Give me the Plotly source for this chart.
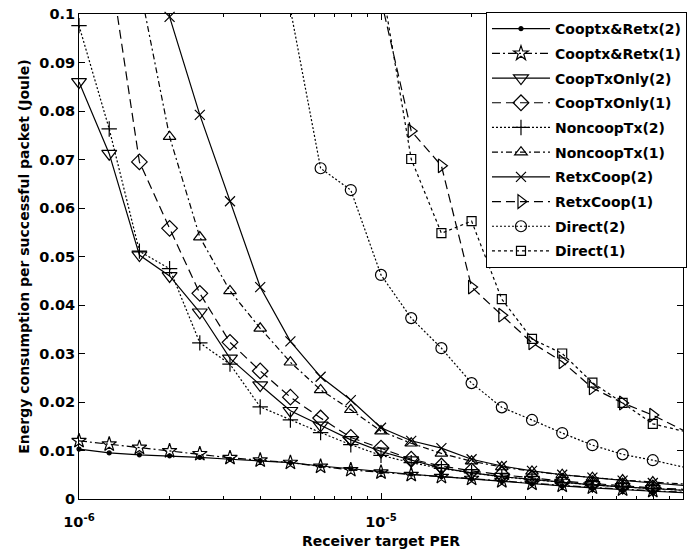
import plotly.graph_objects as go

# Receiver target PER (log-spaced, 0.1 decade apart)
per = [1.0e-6, 1.259e-6, 1.585e-6, 1.995e-6, 2.512e-6, 3.162e-6, 3.981e-6,
       5.012e-6, 6.310e-6, 7.943e-6, 1.0e-5, 1.259e-5, 1.585e-5, 1.995e-5,
       2.512e-5, 3.162e-5, 3.981e-5, 5.012e-5, 6.310e-5, 7.943e-5, 1.0e-4]

# Energy per successful packet (Joule); None = not reached inside the axes
cooptx_retx_2 = [0.0103, 0.0095, 0.0091, 0.0089, 0.0086, 0.0082, 0.0079, 0.0075,
                 0.0068, 0.0062, 0.0056, 0.0051, 0.0046, 0.0041, 0.0036, 0.0031,
                 0.0027, 0.0023, 0.0019, 0.0016, 0.0013]
cooptx_retx_1 = [0.0120, 0.0113, 0.0106, 0.0099, 0.0093, 0.0085, 0.0080, 0.0075,
                 0.0067, 0.0060, 0.0055, 0.0050, 0.0046, 0.0042, 0.0037, 0.0032,
                 0.0028, 0.0024, 0.0020, 0.0017, 0.0014]
cooptx_only_2 = [0.0860, 0.0712, 0.0503, 0.0460, 0.0385, 0.0290, 0.0235, 0.0182,
                 0.0152, 0.0122, 0.0098, 0.0080, 0.0064, 0.0054, 0.0046, 0.0040,
                 0.0034, 0.0029, 0.0025, 0.0021, 0.0018]
cooptx_only_1 = [None, 0.111, 0.0695, 0.0558, 0.0424, 0.0323, 0.0264, 0.0210,
                 0.0167, 0.0127, 0.0105, 0.0082, 0.0068, 0.0058, 0.0050, 0.0043,
                 0.0037, 0.0032, 0.0027, 0.0023, 0.0020]
noncoop_tx_2 = [0.0976, 0.0763, 0.0511, 0.0475, 0.0322, 0.0278, 0.0190, 0.0163,
                0.0137, 0.0112, 0.0090, 0.0075, 0.0063, 0.0054, 0.0046, 0.0040,
                0.0034, 0.0029, 0.0025, 0.0021, 0.0018]
noncoop_tx_1 = [None, None, 0.106, 0.0747, 0.0540, 0.0429, 0.0352, 0.0282,
                0.0225, 0.0184, 0.0140, 0.0115, 0.0094, 0.0078, 0.0066, 0.0057,
                0.0050, 0.0044, 0.0039, 0.0035, 0.0031]
retx_coop_2 = [None, None, 0.130, 0.0994, 0.0792, 0.0614, 0.0437, 0.0325,
               0.0252, 0.0204, 0.0147, 0.0120, 0.0105, 0.0082, 0.0068, 0.0058,
               0.0050, 0.0044, 0.0038, 0.0033, 0.0028]
retx_coop_1 = [None, None, None, None, None, None, None, None, None, None,
               0.103, 0.0759, 0.0687, 0.0437, 0.0379, 0.0322, 0.0283, 0.0229,
               0.0198, 0.0173, 0.0142]
direct_2 = [None, None, None, None, None, None, None, 0.101, 0.0682, 0.0637,
            0.0462, 0.0373, 0.0311, 0.0239, 0.0189, 0.0163, 0.0136, 0.0111,
            0.0092, 0.0080, 0.0066]
direct_1 = [None, None, None, None, None, None, None, None, None, None,
            0.107, 0.0701, 0.0548, 0.0573, 0.0412, 0.0330, 0.0300, 0.0240,
            0.0198, 0.0155, 0.0140]

X_MIN, X_MAX = 1e-6, 1e-4
Y_MIN, Y_MAX = 0.0, 0.1

FONT = "DejaVu Sans, Liberation Sans, sans-serif"

# name, values, dash pattern, marker symbol, marker size
series = [
    ("Cooptx&Retx(2)", cooptx_retx_2, "solid", "circle", 4),
    ("Cooptx&Retx(1)", cooptx_retx_1, "8px,3px,2px,3px", "star-open", 11),
    ("CoopTxOnly(2)", cooptx_only_2, "solid", "triangle-down-open", 13),
    ("CoopTxOnly(1)", cooptx_only_1, "9px,5px", "diamond-open", 12),
    ("NoncoopTx(2)", noncoop_tx_2, "2px,2px", "cross-thin-open", 11),
    ("NoncoopTx(1)", noncoop_tx_1, "6px,3px,2px,3px", "triangle-up-open", 11),
    ("RetxCoop(2)", retx_coop_2, "solid", "x-thin-open", 10),
    ("RetxCoop(1)", retx_coop_1, "9px,5px", "triangle-right-open", 12),
    ("Direct(2)", direct_2, "2px,2px", "circle-open", 11),
    ("Direct(1)", direct_1, "3px,3px", "square-open", 9),
]

fig = go.Figure()
for name, vals, dash, symbol, size in series:
    # markers only for samples lying inside the axes box
    inside = [i for i, (xv, yv) in enumerate(zip(per, vals))
              if yv is not None and Y_MIN <= yv <= Y_MAX and xv < X_MAX]
    fig.add_trace(go.Scatter(
        x=per, y=vals, name=name, legendgroup=name, mode="lines+markers",
        connectgaps=False, cliponaxis=False,
        line=dict(color="black", width=1.2, dash=dash),
        marker=dict(symbol=symbol, size=size, color="black",
                    line=dict(color="black", width=1.2)),
        selectedpoints=inside,
        selected=dict(marker=dict(opacity=1)),
        unselected=dict(marker=dict(opacity=0)),
    ))

minor_x = [m * 10.0 ** e for e in (-6, -5) for m in range(2, 10)]

fig.update_layout(
    width=696, height=553,
    margin=dict(l=79, r=9, t=14, b=54),
    paper_bgcolor="white", plot_bgcolor="white",
    font=dict(family=FONT, size=14, color="black", weight="bold"),
    showlegend=True,
    legend=dict(
        x=1.0066, xanchor="right", y=1.004, yanchor="top",
        bgcolor="white", bordercolor="black", borderwidth=1,
        font=dict(family=FONT, size=14, color="black", weight="bold"),
        itemwidth=58, tracegroupgap=3.5,
    ),
    xaxis=dict(
        type="log", range=[-6, -4], automargin=False,
        tickvals=[1e-6, 1e-5, 1e-4],
        ticktext=["10<sup>-6</sup>", "10<sup>-5</sup>", "10<sup>-4</sup>"],
        ticks="inside", ticklen=6, tickwidth=1, tickcolor="black",
        minor=dict(tickvals=minor_x, ticks="inside", ticklen=3,
                   tickwidth=1, tickcolor="black", showgrid=False),
        showline=True, linecolor="black", linewidth=1, mirror="ticks",
        showgrid=False, zeroline=False, ticklabelstandoff=10,
        title=dict(text="Receiver target PER", standoff=6,
                   font=dict(family=FONT, size=14, weight="bold")),
        tickfont=dict(family=FONT, size=14.5, weight="bold"),
    ),
    yaxis=dict(
        range=[Y_MIN, Y_MAX], automargin=False,
        tickvals=[0, 0.01, 0.02, 0.03, 0.04, 0.05, 0.06, 0.07, 0.08, 0.09, 0.1],
        ticktext=["0", "0.01", "0.02", "0.03", "0.04", "0.05", "0.06",
                  "0.07", "0.08", "0.09", "0.1"],
        ticks="inside", ticklen=6, tickwidth=1, tickcolor="black",
        showline=True, linecolor="black", linewidth=1, mirror="ticks",
        showgrid=False, zeroline=False,
        title=dict(text="Energy consumption per successful packet (Joule)",
                   standoff=6, font=dict(family=FONT, size=14, weight="bold")),
        tickfont=dict(family=FONT, size=14.5, weight="bold"),
    ),
)

fig.write_html("out.html")
